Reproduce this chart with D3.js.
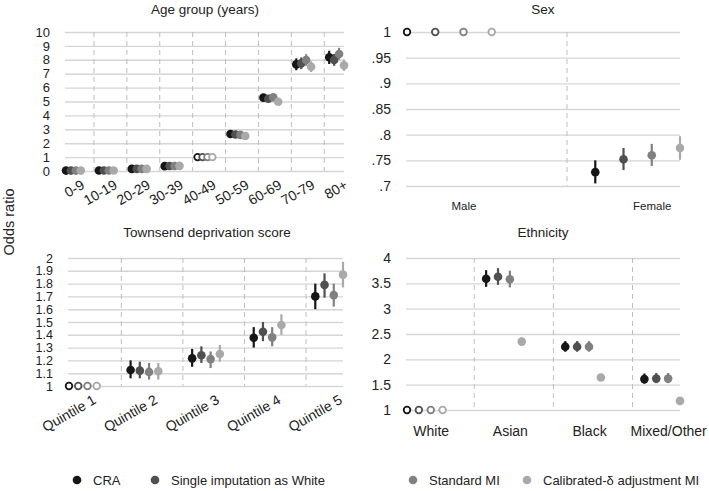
<!DOCTYPE html>
<html><head><meta charset="utf-8">
<script src="https://cdn.jsdelivr.net/npm/d3@7"></script>
<style>
body{margin:0;background:#fff;}
svg{display:block;font-family:"Liberation Sans",Arial,sans-serif;}
</style></head>
<body><svg id="chart" width="709" height="491"></svg>
<script>
// ---------- DATA ----------
const seriesNames = ["CRA", "Single imputation as White", "Standard MI", "Calibrated-\u03b4 adjustment MI"];
const seriesColors = ["#161616", "#505050", "#808080", "#a9a9a9"];

const ageGroups = ["0-9","10-19","20-29","30-39","40-49","50-59","60-69","70-79","80+"];
const ageRef = 4;
const ageOR = [
  [0.03,0.04,0.15,0.35,1,2.66,5.28,7.67,8.18],
  [0.03,0.04,0.15,0.36,1,2.63,5.20,7.74,7.98],
  [0.03,0.04,0.15,0.36,1,2.60,5.30,7.98,8.42],
  [0.03,0.04,0.15,0.37,1,2.52,4.98,7.50,7.60]];
const ageLo = [
  [0.02,0.03,0.12,0.31,null,2.55,5.10,7.25,7.70],
  [0.02,0.03,0.12,0.32,null,2.52,5.03,7.33,7.57],
  [0.02,0.03,0.12,0.32,null,2.49,5.12,7.57,8.00],
  [0.02,0.03,0.12,0.33,null,2.41,4.82,7.12,7.20]];
const ageHi = [
  [0.04,0.05,0.18,0.39,null,2.78,5.45,8.10,8.65],
  [0.04,0.05,0.18,0.40,null,2.75,5.38,8.17,8.42],
  [0.04,0.05,0.18,0.40,null,2.71,5.48,8.40,8.86],
  [0.04,0.05,0.18,0.41,null,2.63,5.15,7.90,8.02]];
const ageTicks = [0,1,2,3,4,5,6,7,8,9,10];
const ageTickLabels = ["0","1","2","3","4","5","6","7","8","9","10"];

const sexCats = ["Male","Female"];
const sexRef = 0;
const sexOR = [[1,0.727],[1,0.752],[1,0.760],[1,0.774]];
const sexLo = [[null,0.705],[null,0.731],[null,0.739],[null,0.751]];
const sexHi = [[null,0.750],[null,0.774],[null,0.782],[null,0.797]];
const sexTicks = [0.7,0.75,0.8,0.85,0.9,0.95,1];
const sexTickLabels = [".7",".75",".8",".85",".9",".95","1"];

const townCats = ["Quintile 1","Quintile 2","Quintile 3","Quintile 4","Quintile 5"];
const townRef = 0;
const townOR = [
  [1,1.125,1.216,1.377,1.70],
  [1,1.120,1.240,1.424,1.79],
  [1,1.110,1.210,1.380,1.71],
  [1,1.115,1.250,1.477,1.87]];
const townLo = [
  [null,1.06,1.15,1.30,1.60],
  [null,1.06,1.18,1.35,1.69],
  [null,1.05,1.14,1.31,1.62],
  [null,1.05,1.19,1.40,1.77]];
const townHi = [
  [null,1.20,1.29,1.46,1.80],
  [null,1.19,1.31,1.50,1.88],
  [null,1.18,1.27,1.46,1.80],
  [null,1.18,1.32,1.56,1.97]];
const townTicks = [1,1.1,1.2,1.3,1.4,1.5,1.6,1.7,1.8,1.9,2];
const townTickLabels = ["1","1.1","1.2","1.3","1.4","1.5","1.6","1.7","1.8","1.9","2"];

const ethCats = ["White","Asian","Black","Mixed/Other"];
const ethRef = 0;
const ethOR = [
  [1,3.59,2.25,1.61],
  [1,3.63,2.25,1.62],
  [1,3.58,2.25,1.62],
  [1,2.35,1.64,1.18]];
const ethLo = [
  [null,3.43,2.15,1.52],
  [null,3.47,2.15,1.53],
  [null,3.42,2.15,1.53],
  [null,2.27,1.60,1.13]];
const ethHi = [
  [null,3.76,2.36,1.72],
  [null,3.80,2.36,1.73],
  [null,3.75,2.36,1.73],
  [null,2.43,1.68,1.23]];
const ethTicks = [1,1.5,2,2.5,3,3.5,4];
const ethTickLabels = ["1","1.5","2","2.5","3","3.5","4"];

// ---------- DRAW ----------
const svg = d3.select("#chart");
const OFF = 0.15, LAB = 0.3, DIV = 0.85;

function panel(cfg) {
  const n = cfg.cats.length;
  const x = d3.scaleLinear().domain([0, n - 1 + 3 * OFF]).range(cfg.xr);
  const y = d3.scaleLinear().domain(cfg.yd).range(cfg.yr);
  const g = svg.append("g");

  g.append("text").attr("x", cfg.tx).attr("y", cfg.ty).attr("text-anchor", "middle")
    .attr("font-size", 13.5).attr("fill", "#222").text(cfg.title);

  const yAxis = d3.axisLeft(y).tickValues(cfg.ticks)
    .tickFormat((d, i) => cfg.tickLabels[i])
    .tickSize(-(cfg.xr[1] - cfg.xr[0] + 1)).tickPadding(15);
  const ya = g.append("g").attr("transform", `translate(${cfg.xr[0] - 1},0)`).call(yAxis);
  ya.select(".domain").remove();
  ya.selectAll(".tick line").attr("stroke", "#d6d6d6").attr("stroke-width", 1.4);
  ya.selectAll(".tick text").attr("font-size", cfg.yfs).attr("fill", "#222")
    .attr("font-family", "Liberation Sans, Arial, sans-serif");

  g.selectAll("line.div").data(d3.range(n - 1)).join("line").attr("class", "div")
    .attr("x1", d => x(d + DIV)).attr("x2", d => x(d + DIV))
    .attr("y1", y(cfg.yd[1])).attr("y2", y(cfg.yd[0]))
    .attr("stroke", "#bdbdbd").attr("stroke-width", 1).attr("stroke-dasharray", "5,4");

  const xAxis = d3.axisBottom(x).tickValues(d3.range(n).map(i => i + LAB))
    .tickFormat((d, i) => cfg.cats[i]).tickSize(0).tickPadding(0);
  const xa = g.append("g").attr("transform", `translate(0,${cfg.xly})`).call(xAxis);
  xa.select(".domain").remove();
  const xt = xa.selectAll(".tick text").attr("font-size", cfg.xfs).attr("fill", "#222")
    .attr("font-family", "Liberation Sans, Arial, sans-serif");
  if (cfg.rotate) {
    xt.attr("text-anchor", "end").attr("dy", "0.8em").attr("dx", cfg.rdx || 0)
      .attr("transform", `rotate(${cfg.rotate})`);
  } else {
    xt.attr("dy", "0.71em");
  }

  const pts = [];
  cfg.or.forEach((arr, s) => arr.forEach((v, i) => pts.push({
    s, i, v, lo: cfg.lo[s][i], hi: cfg.hi[s][i], ref: i === cfg.ref })));
  const order = pts.slice().sort((a, b) => a.i - b.i || a.s - b.s);
  const pg = g.append("g");
  order.forEach(p => {
    const cx = x(p.i + p.s * OFF);
    if (p.lo != null) {
      pg.append("line").attr("x1", cx).attr("x2", cx).attr("y1", y(p.lo)).attr("y2", y(p.hi))
        .attr("stroke", seriesColors[p.s]).attr("stroke-width", 2.2);
    }
    if (p.ref) {
      pg.append("circle").attr("cx", cx).attr("cy", y(p.v)).attr("r", 3.3)
        .attr("fill", "#fff").attr("stroke", seriesColors[p.s]).attr("stroke-width", 1.8);
    } else {
      pg.append("circle").attr("cx", cx).attr("cy", y(p.v)).attr("r", 4.3)
        .attr("fill", seriesColors[p.s]);
    }
  });
}

panel({ title: "Age group (years)", tx: 205, ty: 14, cats: ageGroups, ref: ageRef,
  or: ageOR, lo: ageLo, hi: ageHi, ticks: ageTicks, tickLabels: ageTickLabels, yfs: 13,
  xr: [66, 344], yd: [0, 10], yr: [171, 32], xly: 180, xfs: 14, rotate: -30, rdx: 4 });

panel({ title: "Sex", tx: 543, ty: 14, cats: sexCats, ref: sexRef,
  or: sexOR, lo: sexLo, hi: sexHi, ticks: sexTicks, tickLabels: sexTickLabels, yfs: 14,
  xr: [407, 680], yd: [0.7, 1], yr: [186, 32], xly: 202, xfs: 11.5 });

panel({ title: "Townsend deprivation score", tx: 207, ty: 237, cats: townCats, ref: townRef,
  or: townOR, lo: townLo, hi: townHi, ticks: townTicks, tickLabels: townTickLabels, yfs: 12.5,
  xr: [69, 343], yd: [1, 2], yr: [386, 258], xly: 395, xfs: 14, rotate: -30, rdx: 4 });

panel({ title: "Ethnicity", tx: 543, ty: 237, cats: ethCats, ref: ethRef,
  or: ethOR, lo: ethLo, hi: ethHi, ticks: ethTicks, tickLabels: ethTickLabels, yfs: 14,
  xr: [407, 680], yd: [1, 4], yr: [410, 258], xly: 426, xfs: 14 });

svg.append("text").attr("transform", "translate(14,222) rotate(-90)")
  .attr("text-anchor", "middle").attr("font-size", 14.5).attr("fill", "#222").text("Odds ratio");

const legX = [77, 155, 413, 527];
const lg = svg.append("g");
seriesNames.forEach((name, i) => {
  lg.append("circle").attr("cx", legX[i]).attr("cy", 480).attr("r", 4.3).attr("fill", seriesColors[i]);
  lg.append("text").attr("x", legX[i] + 16).attr("y", 480).attr("dy", "0.35em")
    .attr("font-size", 13).attr("fill", "#222").text(name);
});
</script></body></html>
